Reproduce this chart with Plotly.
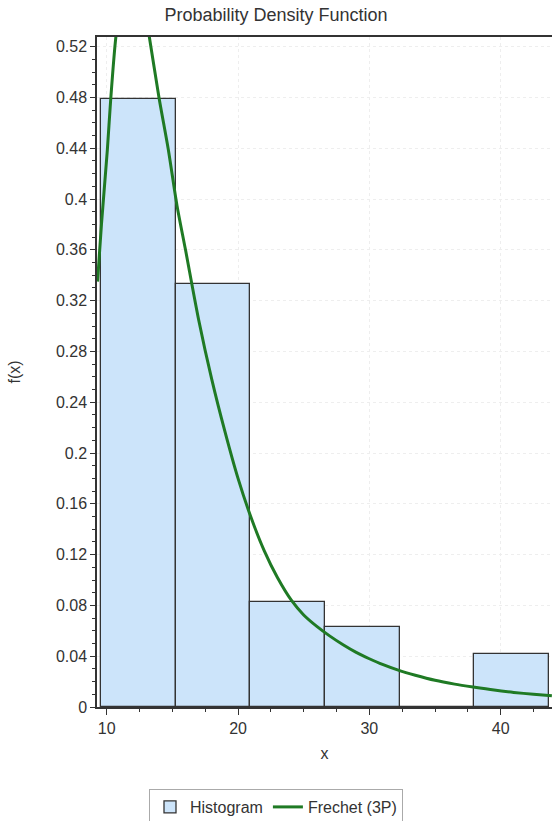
import numpy as np
import plotly.graph_objects as go

# Histogram: bin edges and relative frequencies
bin_edges = [9.57, 15.25, 20.94, 26.62, 32.31, 37.99, 43.68]
rel_freq = [0.479, 0.333, 0.083, 0.063, 0.0, 0.042]

# Fitted Frechet (3P) density, sampled along x
curve_x = [9.30, 9.60, 10.05, 10.30, 10.70, 11.20, 11.90, 12.60, 13.24, 13.98,
           14.69, 15.35, 16.0, 17.0, 18.0, 19.0, 20.0, 21.0, 22.0, 23.0,
           24.1, 25.0, 26.0, 27.0, 28.0, 29.0, 30.0, 31.0, 32.2, 33.5,
           35.0, 36.5, 37.9, 39.5, 41.0, 42.5, 43.9]
curve_y = [0.335, 0.380, 0.439, 0.478, 0.528, 0.565, 0.580, 0.568, 0.528, 0.480,
           0.439, 0.395, 0.360, 0.305, 0.258, 0.217, 0.180, 0.149, 0.123, 0.102,
           0.0835, 0.0725, 0.0635, 0.0558, 0.0490, 0.0430, 0.0380, 0.0335, 0.0290, 0.0250,
           0.0210, 0.0180, 0.0157, 0.0133, 0.0115, 0.0100, 0.0088]

x_ticks = [10, 20, 30, 40]
y_ticks = [0, 0.04, 0.08, 0.12, 0.16, 0.2, 0.24, 0.28, 0.32, 0.36, 0.4, 0.44, 0.48, 0.52]
y_tick_labels = ["0", "0.04", "0.08", "0.12", "0.16", "0.2", "0.24", "0.28",
                 "0.32", "0.36", "0.4", "0.44", "0.48", "0.52"]

edges = np.array(bin_edges)
centers = (edges[:-1] + edges[1:]) / 2
widths = edges[1:] - edges[:-1]

TEXT = "#333333"
AXIS = "#333333"
GRID = "#eeeeee"

fig = go.Figure()
fig.add_trace(go.Bar(
    x=centers, y=rel_freq, width=widths, name="Histogram",
    marker=dict(color="#cce4fa", line=dict(color="#333333", width=1.3)),
))
fig.add_trace(go.Scatter(
    x=curve_x, y=curve_y, mode="lines", name="Frechet (3P)",
    line=dict(color="#1f7a24", width=3, shape="spline", smoothing=0.8),
))

fig.update_layout(
    width=552, height=821,
    margin=dict(l=97, r=0, t=37, b=114),
    paper_bgcolor="white", plot_bgcolor="white",
    font=dict(family="Liberation Sans, Arial, sans-serif", size=16, color=TEXT),
    title=dict(text="Probability Density Function", x=0.5, xref="container",
               xanchor="center", y=1 - 15 / 821, yref="container", yanchor="middle",
               font=dict(size=18, color=TEXT)),
    bargap=0,
    showlegend=True,
    legend=dict(orientation="h", xref="container", yref="container",
                x=0.5, xanchor="center", y=(821 - 789) / 821, yanchor="top",
                bordercolor="#aaaaaa", borderwidth=1, bgcolor="white",
                font=dict(size=16, color=TEXT)),
)

fig.update_xaxes(
    range=[9.26, 43.91], tickvals=x_ticks, ticks="outside", ticklen=6,
    tickcolor=AXIS, showline=True, linewidth=2, linecolor=AXIS, mirror=True,
    showgrid=True, gridcolor=GRID, griddash="dot", zeroline=False,
    minor=dict(ticks="outside", ticklen=3, tick0=10, dtick=2.5, tickcolor=AXIS,
               showgrid=False),
    tickfont=dict(size=16, color=TEXT),
    title=dict(text="x", font=dict(size=16, color=TEXT), standoff=12),
)
fig.update_yaxes(
    range=[0, 0.5276], tickvals=y_ticks, ticktext=y_tick_labels, ticks="outside",
    ticklen=5, tickcolor=AXIS, showline=True, linewidth=1.5, linecolor=AXIS,
    showgrid=True, gridcolor=GRID, griddash="dot", zeroline=False,
    minor=dict(ticks="outside", ticklen=3, tick0=0, dtick=0.01, tickcolor=AXIS,
               showgrid=False),
    tickfont=dict(size=16, color=TEXT),
    title=dict(text="f(x)", font=dict(size=16, color=TEXT), standoff=31),
)

fig.write_html("out.html")
